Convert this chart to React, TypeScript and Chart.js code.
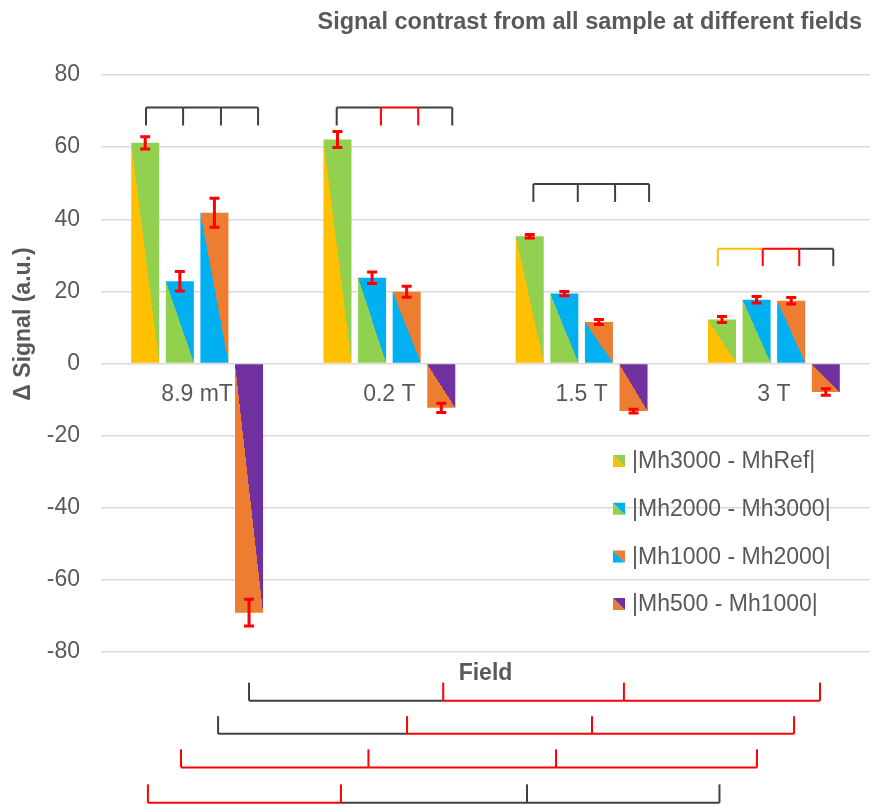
import React, { useEffect, useRef } from 'react';
import { Chart, registerables } from 'chart.js';

Chart.register(...registerables);

// ---------- data ----------
const categories = ['8.9 mT', '0.2 T', '1.5 T', '3 T'];
const seriesNames = ['|Mh3000 - MhRef|', '|Mh2000 - Mh3000|', '|Mh1000 - Mh2000|', '|Mh500 - Mh1000|'];
const mh3000Ref = [61.2, 62.1, 35.3, 12.2];
const mh2000Mh3000 = [22.8, 23.8, 19.4, 17.7];
const mh1000Mh2000 = [41.8, 19.9, 11.5, 17.4];
const mh500Mh1000 = [-69.1, -12.3, -13.2, -7.9];
const err3000Ref = [1.7, 2.2, 0.5, 0.8];
const err2000Mh3000 = [2.7, 1.6, 0.6, 0.9];
const err1000Mh2000 = [4.0, 1.5, 0.7, 0.9];
const err500Mh1000 = [3.7, 1.3, 0.5, 0.9];

const colorsA = ['#FFC000', '#92D050', '#00B0F0', '#ED7D31'];
const colorsB = ['#92D050', '#00B0F0', '#ED7D31', '#7030A0'];

const yMin = -80;
const yMax = 80;
const yStep = 20;

const titleText = 'Signal contrast from all sample at different fields';
const yTitleText = '\u0394 Signal (a.u.)';
const xTitleText = 'Field';

// significance brackets: x in category units, y in data units
const K = '#404040';
const R = '#FF0000';
const Y = '#FFC000';
// top brackets (line on top, ticks go down)
const topBracketX = [
  [-0.266, -0.073, 0.124, 0.317],
  [0.726, 0.956, 1.150, 1.327],
  [1.749, 1.980, 2.174, 2.351],
  [2.708, 2.942, 3.132, 3.309],
];
const topBracketY = [[71.0, 66.0], [71.0, 66.0], [49.8, 44.8], [31.8, 27.0]];
const topBracketSegColors = [[K, K, K], [K, R, K], [K, K, K], [Y, R, K]];
const topBracketTickColors = [[K, K, K, K], [K, R, R, K], [K, K, K, K], [Y, R, R, K]];
// bottom brackets (line at bottom, ticks go up)
const bottomBracketX = [
  [0.27, 1.28, 2.22, 3.24],
  [0.109, 1.092, 2.054, 3.105],
  [-0.084, 0.891, 1.867, 2.912],
  [-0.256, 0.748, 1.716, 2.717],
];
const bottomBracketY = [[-88.5, -93.5], [-97.8, -102.7], [-107.0, -112.0], [-116.7, -121.8]];
const bottomBracketSegColors = [[K, R, R], [K, R, R], [R, R, R], [R, K, K]];
const bottomBracketTickColors = [[K, R, R, R], [K, R, R, R], [R, R, R, R], [R, R, K, K]];

const seriesValues = [mh3000Ref, mh2000Mh3000, mh1000Mh2000, mh500Mh1000];
const seriesErrors = [err3000Ref, err2000Mh3000, err1000Mh2000, err500Mh1000];

const FONT = '"Liberation Sans", Arial, Helvetica, sans-serif';
const TEXT = '#595959';

function diagGradient(ctx: CanvasRenderingContext2D, left: number, top: number, right: number, bottom: number, a: string, b: string) {
  const w = right - left;
  const h = bottom - top;
  const L = Math.sqrt(w * w + h * h) || 1;
  const nx = h / L;
  const ny = -w / L;
  const cx = (left + right) / 2;
  const cy = (top + bottom) / 2;
  const D = Math.max(w, h, 1);
  const g = ctx.createLinearGradient(cx - nx * D, cy - ny * D, cx + nx * D, cy + ny * D);
  g.addColorStop(0, a);
  g.addColorStop(0.5, a);
  g.addColorStop(0.5, b);
  g.addColorStop(1, b);
  return g;
}

const barFillPlugin = {
  id: 'barFill',
  beforeDatasetsDraw(chart: any) {
    const ctx = chart.ctx;
    chart.data.datasets.forEach((_: any, i: number) => {
      const meta = chart.getDatasetMeta(i);
      meta.data.forEach((el: any) => {
        const left = el.x - el.width / 2;
        const right = el.x + el.width / 2;
        const top = Math.min(el.y, el.base);
        const bottom = Math.max(el.y, el.base);
        const g = diagGradient(ctx, left, top, right, bottom, colorsA[i], colorsB[i]);
        el.options = Object.assign({}, el.options, { backgroundColor: g, borderWidth: 0 });
      });
    });
    // category labels at zero line
    const xs = chart.scales.x;
    const ys = chart.scales.y;
    ctx.save();
    ctx.fillStyle = TEXT;
    ctx.font = `23px ${FONT}`;
    ctx.textAlign = 'center';
    ctx.textBaseline = 'alphabetic';
    categories.forEach((c, i) => {
      ctx.fillText(c, xs.getPixelForValue(i), ys.getPixelForValue(0) + 37);
    });
    ctx.restore();
  },
};

const errorBarPlugin = {
  id: 'errorBars',
  afterDatasetsDraw(chart: any) {
    const ctx = chart.ctx;
    const ys = chart.scales.y;
    ctx.save();
    ctx.strokeStyle = '#FF0000';
    ctx.lineWidth = 3;
    seriesValues.forEach((vals, i) => {
      const meta = chart.getDatasetMeta(i);
      meta.data.forEach((el: any, j: number) => {
        const v = vals[j];
        const e = seriesErrors[i][j];
        const x = el.x;
        const y1 = ys.getPixelForValue(v + e);
        const y2 = ys.getPixelForValue(v - e);
        ctx.beginPath();
        ctx.moveTo(x, y1);
        ctx.lineTo(x, y2);
        ctx.moveTo(x - 5, y1);
        ctx.lineTo(x + 5, y1);
        ctx.moveTo(x - 5, y2);
        ctx.lineTo(x + 5, y2);
        ctx.stroke();
      });
    });
    ctx.restore();
  },
};

function drawBracket(ctx: CanvasRenderingContext2D, xs: any, ys: any, xv: number[], yLine: number, yEnd: number, segC: string[], tickC: string[]) {
  const px = xv.map((v) => xs.getPixelForValue(v));
  const pl = ys.getPixelForValue(yLine);
  const pe = ys.getPixelForValue(yEnd);
  ctx.lineWidth = 2;
  ctx.lineCap = 'butt';
  for (let k = 0; k < px.length - 1; k++) {
    ctx.strokeStyle = segC[k];
    ctx.beginPath();
    ctx.moveTo(px[k], pl);
    ctx.lineTo(px[k + 1], pl);
    ctx.stroke();
  }
  for (let k = 0; k < px.length; k++) {
    ctx.strokeStyle = tickC[k];
    ctx.beginPath();
    ctx.moveTo(px[k], pl);
    ctx.lineTo(px[k], pe);
    ctx.stroke();
  }
}

const annotationPlugin = {
  id: 'annotations',
  afterDraw(chart: any) {
    const ctx = chart.ctx;
    const xs = chart.scales.x;
    const ys = chart.scales.y;
    const ca = chart.chartArea;
    ctx.save();
    topBracketX.forEach((xv, i) => {
      drawBracket(ctx, xs, ys, xv, topBracketY[i][0], topBracketY[i][1], topBracketSegColors[i], topBracketTickColors[i]);
    });
    bottomBracketX.forEach((xv, i) => {
      drawBracket(ctx, xs, ys, xv, bottomBracketY[i][1], bottomBracketY[i][0], bottomBracketSegColors[i], bottomBracketTickColors[i]);
    });

    // titles
    ctx.fillStyle = TEXT;
    ctx.font = `bold 23.5px ${FONT}`;
    ctx.textAlign = 'right';
    ctx.textBaseline = 'alphabetic';
    ctx.fillText(titleText, chart.width - 10, 29);

    ctx.font = `bold 23px ${FONT}`;
    ctx.textAlign = 'center';
    ctx.fillText(xTitleText, (ca.left + ca.right) / 2, 680);

    ctx.save();
    ctx.translate(24, 324);
    ctx.rotate(-Math.PI / 2);
    ctx.textAlign = 'center';
    ctx.textBaseline = 'middle';
    ctx.fillText(yTitleText, 0, 0);
    ctx.restore();

    // legend
    const lx = 613;
    const ly0 = 461;
    const dy = 47.7;
    seriesNames.forEach((name, i) => {
      const cy = ly0 + i * dy;
      const top = cy - 6;
      const left = lx;
      const s = 12;
      ctx.fillStyle = colorsA[i];
      ctx.beginPath();
      ctx.moveTo(left, top);
      ctx.lineTo(left, top + s);
      ctx.lineTo(left + s, top + s);
      ctx.closePath();
      ctx.fill();
      ctx.fillStyle = colorsB[i];
      ctx.beginPath();
      ctx.moveTo(left, top);
      ctx.lineTo(left + s, top);
      ctx.lineTo(left + s, top + s);
      ctx.closePath();
      ctx.fill();
      ctx.fillStyle = TEXT;
      ctx.font = `23px ${FONT}`;
      ctx.textAlign = 'left';
      ctx.textBaseline = 'middle';
      ctx.fillText(name, lx + 19, cy + 1);
    });
    ctx.restore();
  },
};

export default function App() {
  const canvasRef = useRef<HTMLCanvasElement | null>(null);

  useEffect(() => {
    const canvas = canvasRef.current;
    if (!canvas) return;
    const chart = new Chart(canvas, {
      type: 'bar',
      data: {
        labels: categories,
        datasets: seriesNames.map((name, i) => ({
          label: name,
          data: seriesValues[i],
          backgroundColor: colorsB[i],
          borderWidth: 0,
          barPercentage: 0.81,
          categoryPercentage: 0.72,
        })),
      },
      options: {
        responsive: false,
        animation: false,
        events: [],
        layout: { padding: { top: 75, right: 2, bottom: 156, left: 0 } },
        plugins: {
          legend: { display: false },
          title: { display: false },
          tooltip: { enabled: false },
        },
        scales: {
          x: {
            display: false,
            offset: true,
          },
          y: {
            min: yMin,
            max: yMax,
            afterFit(scale: any) {
              scale.width = 101;
            },
            ticks: {
              stepSize: yStep,
              color: TEXT,
              font: { family: FONT, size: 23 },
              padding: 21,
            },
            grid: {
              color: '#d9d9d9',
              lineWidth: 1.5,
              drawTicks: false,
            },
            border: { display: false },
          },
        },
      },
      plugins: [barFillPlugin, errorBarPlugin, annotationPlugin],
    });
    return () => chart.destroy();
  }, []);

  return (
    <div style={{ position: 'fixed', left: 0, top: 0, width: 872, height: 808, background: '#fff' }}>
      <canvas ref={canvasRef} width={872} height={808} style={{ display: 'block', width: 872, height: 808 }} />
    </div>
  );
}
